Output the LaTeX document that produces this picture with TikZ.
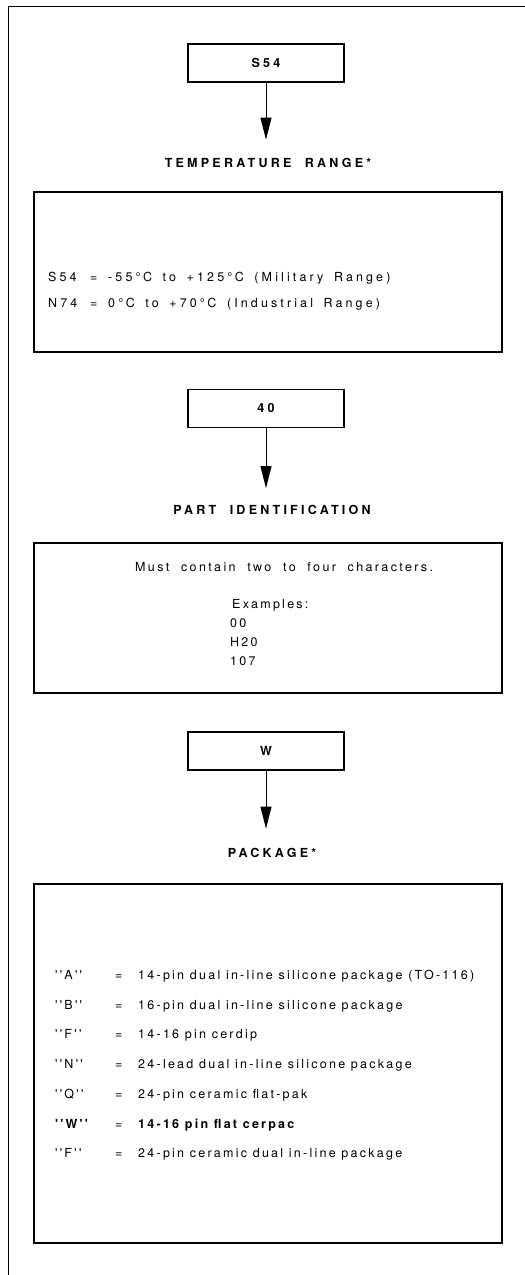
\documentclass[tikz,border=0pt]{standalone}
\usepackage{fontspec}
\setmainfont{TeX Gyre Heros}
\newfontfamily\bodyfont[LetterSpace=18]{TeX Gyre Heros}
\newfontfamily\widefont[LetterSpace=19,WordSpace=2]{TeX Gyre Heros}
\newfontfamily\tempfont[LetterSpace=25,WordSpace=1.6]{TeX Gyre Heros}
\newfontfamily\headfont[LetterSpace=26,WordSpace=2]{TeX Gyre Heros}
\usetikzlibrary{arrows.meta}
\usetikzlibrary{positioning}

\tikzset{
  codebox/.style={draw, line width=1.2pt, minimum width=156pt, minimum height=38pt,
    font=\headfont\bfseries\fontsize{12.5}{15}\selectfont},
  listbox/.style={draw, line width=1.2pt, minimum width=468pt},
  heading/.style={inner sep=0pt, font=\headfont\bfseries\fontsize{12.5}{15}\selectfont},
  entry/.style={anchor=base west, inner sep=0pt, font=\bodyfont\fontsize{12.5}{15}\selectfont},
  wideentry/.style={entry, font=\widefont\fontsize{12.5}{15}\selectfont},
  tempentry/.style={entry, font=\tempfont\fontsize{12.5}{15}\selectfont},
  flow/.style={line width=1pt, -{Triangle[width=11pt,length=22pt]}}
}

\begin{document}
\begin{tikzpicture}[x=1pt,y=-1pt]
\useasboundingbox (0,0) rectangle (525,1275);
% frame of the page
\draw[line width=1pt] (8,1275) -- (8,6) -- (525,6);

% temperature range
\node[codebox] (s54) at (266,63) {S54};
\coordinate[below=57pt of s54.south] (tip1);
\draw[flow] (s54.south) -- (tip1);
\node[heading] (trange) at (268,163) {TEMPERATURE RANGE*};
\node[listbox, minimum height=160pt] (temps) at (268,272) {};
\node[tempentry] (mil) at (48,281.5) {S54};
\node[tempentry] (mileq) at (90,281.5) {=};
\node[tempentry] (mildesc) at (108,281.5) {-55°\hspace{2.5pt}C to +125°\hspace{2.5pt}C (Military Range)};
\node[tempentry] (ind) at (48,307.5) {N74};
\node[tempentry] (indeq) at (90,307.5) {=};
\node[tempentry] (inddesc) at (108,307.5) {0°\hspace{2.5pt}C to +70°\hspace{2.5pt}C (Industrial Range)};

% part identification
\node[codebox] (part) at (266,408.5) {40};
\coordinate[below=60pt of part.south] (tip2);
\draw[flow] (part.south) -- (tip2);
\node[heading] (partid) at (272,510) {PART IDENTIFICATION};
\node[listbox, minimum height=150pt] (parts) at (268,618) {};
\node[wideentry] (rule) at (135,571.5) {Must contain two to four characters.};
\node[entry] (exam) at (232,608.5) {Examples:};
\foreach \ex [count=\i] in {00, H20, 107}
    \node[entry] (ex\i) at (230,{608.5+19*\i}) {\ex};

% package
\node[codebox] (pkg) at (266,751) {W};
\coordinate[below=58pt of pkg.south] (tip3);
\draw[flow] (pkg.south) -- (tip3);
\node[heading] (pkghead) at (272,853) {PACKAGE*};
\node[listbox, minimum height=359pt] (pkgs) at (268,1063.5) {};
\foreach \lab/\desc [count=\i] in {{''A''}/{14-pin dual in-line silicone package (TO-116)},
    {''B''}/{16-pin dual in-line silicone package},
    {''F''}/{14-16 pin cerdip},
    {''N''}/{24-lead dual in-line silicone package},
    {''Q''}/{24-pin ceramic flat-pak},
    {\bfseries ''W''}/{\bfseries 14-16 pin flat cerpac},
    {''F''}/{24-pin ceramic dual in-line package}}
{
    \node[entry] (lab\i) at (55,{949.8+29.7*\i}) {\lab};
    \node[entry] (eq\i) at (115,{949.8+29.7*\i}) {=};
    \node[entry] (desc\i) at (138,{949.8+29.7*\i}) {\desc};
}
\end{tikzpicture}
\end{document}
